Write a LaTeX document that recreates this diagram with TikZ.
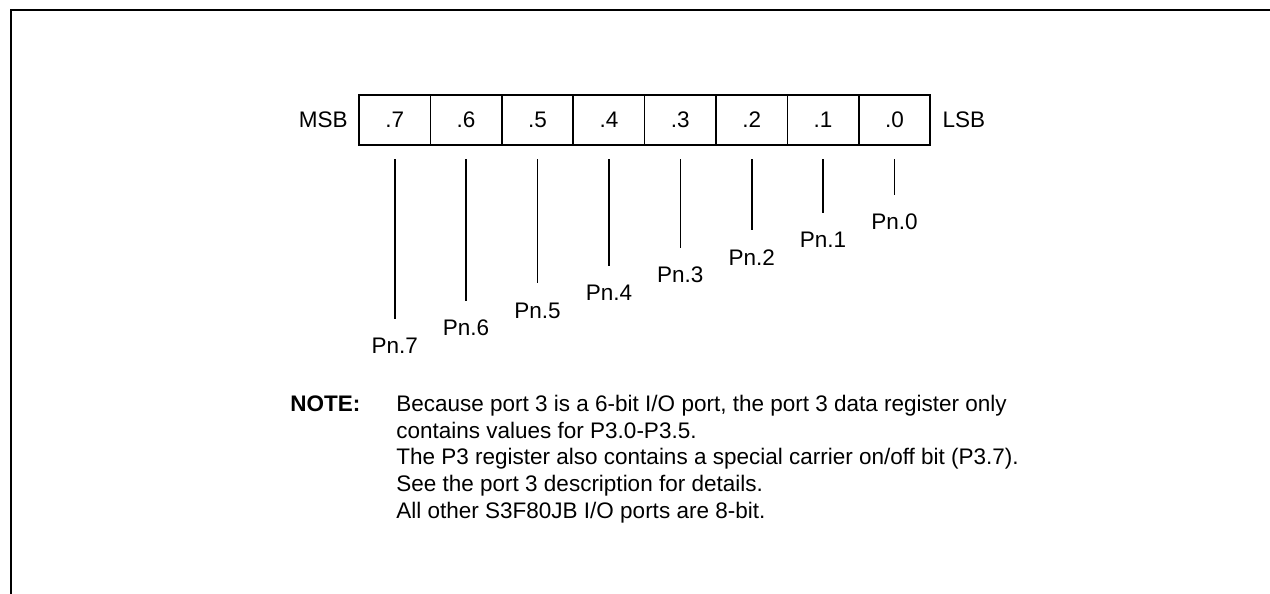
\documentclass[tikz,border=0pt]{standalone}
\usepackage{fontspec}
\setmainfont{Liberation Sans}
\usetikzlibrary{positioning}

\begin{document}
\begin{tikzpicture}[x=0.5pt, y=-0.5pt,
  txt/.style={inner sep=0pt, font=\fontsize{11.25}{13.35}\selectfont},
  cell/.style={draw, line width=0.8pt, outer sep=0pt, inner sep=0pt, minimum width=35.7pt, minimum height=25pt, font=\fontsize{11.25}{13.35}\selectfont},
  pin/.style={txt},
  lead/.style={line width=0.8pt, shorten <=7pt, shorten >=9.5pt}
]
  \useasboundingbox (0,0) rectangle (1270,594);
  \draw[line width=1.1pt] (11,594) -- (11,10) -- (1270,10);

  % register bits
  \node[cell] (b7) at (394.7,120) {.7};
  \node[cell] (b6) at (466.1,120) {.6};
  \node[cell] (b5) at (537.5,120) {.5};
  \node[cell] (b4) at (608.9,120) {.4};
  \node[cell] (b3) at (680.3,120) {.3};
  \node[cell] (b2) at (751.7,120) {.2};
  \node[cell] (b1) at (823.1,120) {.1};
  \node[cell] (b0) at (894.5,120) {.0};
  \node[txt, left=5.5pt of b7] (msb) {MSB};
  \node[txt, right=6pt of b0] (lsb) {LSB};

  % pin names
  \node[pin] (p7) at (394.7,345.9) {Pn.7};
  \node[pin] (p6) at (466.1,328.2) {Pn.6};
  \node[pin] (p5) at (537.5,310.5) {Pn.5};
  \node[pin] (p4) at (608.9,292.8) {Pn.4};
  \node[pin] (p3) at (680.3,275.1) {Pn.3};
  \node[pin] (p2) at (751.7,257.4) {Pn.2};
  \node[pin] (p1) at (823.1,239.7) {Pn.1};
  \node[pin] (p0) at (894.5,222.0) {Pn.0};

  \draw[lead] (b7.south) -- (p7.north);
  \draw[lead] (b6.south) -- (p6.north);
  \draw[lead] (b5.south) -- (p5.north);
  \draw[lead] (b4.south) -- (p4.north);
  \draw[lead] (b3.south) -- (p3.north);
  \draw[lead] (b2.south) -- (p2.north);
  \draw[lead] (b1.south) -- (p1.north);
  \draw[lead] (b0.south) -- (p0.north);

  % note
  \node[txt, font=\fontsize{11.25}{13.35}\selectfont\bfseries, anchor=base west] (note) at (290,411) {NOTE:};
  \node[txt, align=left, anchor=north west] (notebody) at (396,394.6) {Because port 3 is a 6-bit I/O port, the port 3 data register only\\
    contains values for P3.0-P3.5.\\
    The P3 register also contains a special carrier on/off bit (P3.7).\\
    See the port 3 description for details.\\
    All other S3F80JB I/O ports are 8-bit.};
\end{tikzpicture}
\end{document}
